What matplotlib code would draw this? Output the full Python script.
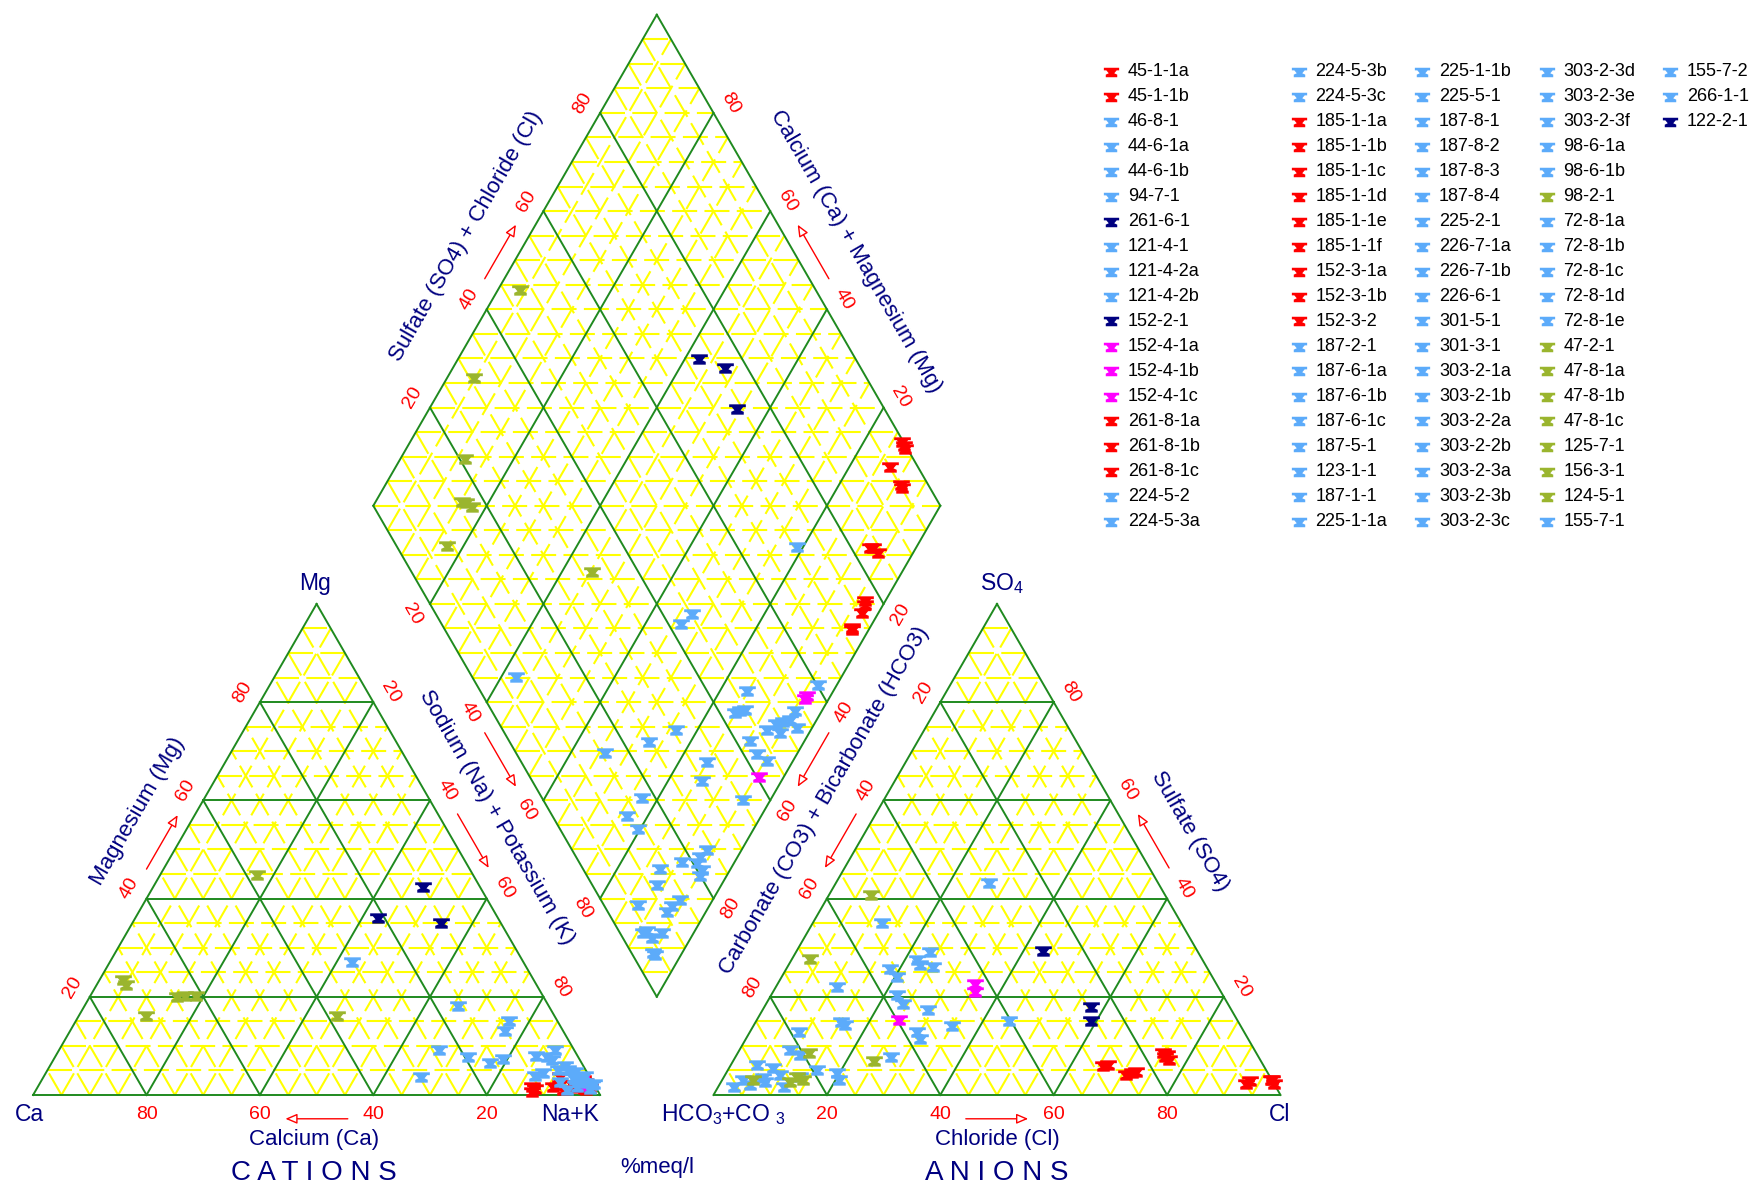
import numpy as np
import matplotlib.pyplot as plt
from matplotlib.path import Path

plt.rcParams['font.family'] = ['Liberation Sans', 'DejaVu Sans']
plt.rcParams['mathtext.default'] = 'regular'

H = np.sqrt(3) / 2

# cation triangle: (Na+K %, Mg %)
cation_red = [(87.1, 1.7), (87.6, 0.7), (90.9, 1.7), (91.1, 3.7), (97.5, 1.4), (94.0, 2.0), (95.0, 1.5),
              (96.0, 2.5), (93.0, 1.0), (97.0, 1.0), (95.5, 3.0), (92.0, 2.0), (96.5, 1.2), (88.0, 1.2)]
cation_blue = [(65.9, 18.1), (76.3, 15.1), (76.7, 13.0), (67.0, 9.2), (72.9, 7.7), (77.2, 6.6), (79.3, 7.3),
               (66.6, 3.6), (84.8, 7.9), (86.7, 7.7), (87.5, 9.2), (87.9, 7.1), (86.6, 3.9), (87.8, 4.4),
               (90.9, 5.8), (91.8, 5.1), (93.6, 3.4), (94.9, 3.1), (96.4, 2.4), (97.5, 2.0), (95.0, 1.7),
               (97.8, 2.2), (93.6, 1.0), (42.7, 27.1), (90.0, 5.1), (93.2, 4.7), (95.3, 3.9), (91.6, 2.6),
               (97.6, 1.2)]
cation_magenta = [(96.0, 2.2), (95.2, 3.0), (96.8, 1.8)]
cation_navy = [(47.6, 42.4), (42.9, 36.0), (54.4, 35.1)]
cation_olive = [(17.1, 44.7), (4.2, 23.4), (5.2, 22.3), (15.4, 20.0), (18.7, 20.2), (11.8, 16.1),
                (45.5, 16.1), (16.7, 20.2)]

# anion triangle: (Cl %, SO4 %)
anion_red = [(65.8, 5.8), (70.7, 4.0), (72.2, 4.7), (75.8, 7.7), (76.0, 8.1), (92.8, 2.2), (96.7, 3.1),
             (97.8, 2.2), (75.0, 8.5), (71.5, 4.5), (97.0, 3.0), (66.5, 6.2), (76.8, 7.2), (93.3, 2.8)]
anion_blue = [(12.2, 35.0), (18.3, 25.6), (20.3, 24.1), (22.1, 27.5), (23.6, 29.2), (25.7, 26.1), (23.2, 26.5),
              (10.8, 21.9), (22.1, 20.4), (24.1, 18.5), (29.2, 17.3), (16.0, 14.3), (15.1, 14.9), (29.4, 12.9),
              (30.7, 11.5), (35.1, 14.1), (44.6, 15.1), (8.7, 12.9), (8.9, 9.2), (11.2, 8.1), (27.4, 7.8),
              (4.6, 6.1), (7.8, 5.4), (9.7, 4.1), (13.4, 3.7), (15.7, 5.1), (3.7, 3.1), (2.7, 1.7), (5.4, 2.0),
              (11.5, 1.7), (19.5, 4.4), (20.5, 3.1), (27.0, 43.1), (6.9, 3.5), (7.8, 2.6)]
anion_magenta = [(34.8, 22.6), (35.6, 21.0), (25.0, 15.3)]
anion_navy = [(43.4, 29.4), (57.6, 18.0), (59.1, 15.0)]
anion_olive = [(7.4, 40.7), (3.2, 27.6), (12.6, 8.5), (24.8, 7.0), (5.5, 3.1), (12.9, 3.7), (14.3, 3.1),
               (12.2, 2.6)]

# diamond: (Na+K %, SO4+Cl %)
diamond_red = [(86.8, 99.8), (88.0, 99.5), (87.2, 95.1), (91.4, 95.0), (92.0, 83.3), (93.9, 84.2), (96.5, 77.0),
               (97.1, 75.2), (97.0, 71.7), (87.5, 99.6), (92.5, 83.8), (96.8, 76.5), (91.0, 95.3), (97.0, 72.0)]
diamond_blue = [(79.0, 70.6), (67.2, 45.1), (66.4, 42.3), (96.7, 60.2), (84.7, 47.0), (85.6, 43.7), (85.0, 42.7),
                (86.4, 44.8), (95.2, 53.5), (94.3, 50.3), (93.3, 48.9), (95.3, 51.7), (92.3, 46.6), (94.9, 48.6),
                (97.3, 52.0), (76.3, 30.6), (90.4, 42.5), (72.8, 24.6), (66.1, 15.7), (92.9, 42.3), (95.4, 43.4),
                (84.9, 32.7), (85.9, 29.9), (77.2, 17.6), (95.2, 35.3), (76.3, 13.1), (79.7, 13.8), (93.9, 23.8),
                (93.4, 21.9), (93.5, 20.7), (95.0, 20.8), (95.4, 19.9), (90.7, 18.2), (87.6, 13.6), (88.7, 11.5),
                (87.4, 6.1), (94.3, 14.0), (93.5, 11.9), (93.1, 10.4), (91.6, 4.9), (94.4, 7.3), (93.2, 5.1),
                (91.1, 4.1), (94.9, 3.8), (95.4, 3.9), (42.6, 7.8)]
diamond_magenta = [(95.8, 57.1), (95.8, 56.5), (95.7, 40.4)]
diamond_navy = [(42.5, 72.4), (48.0, 76.1), (54.3, 74.1)]
diamond_olive = [(3.8, 47.8), (4.7, 30.7), (11.4, 20.9), (15.3, 16.1), (17.5, 17.2), (17.0, 8.9),
                 (45.2, 31.8), (16.0, 16.6)]

# legend: sample ids per column and their group letters
legend_cols = [
    ["45-1-1a", "45-1-1b", "46-8-1", "44-6-1a", "44-6-1b", "94-7-1", "261-6-1", "121-4-1", "121-4-2a",
     "121-4-2b", "152-2-1", "152-4-1a", "152-4-1b", "152-4-1c", "261-8-1a", "261-8-1b", "261-8-1c",
     "224-5-2", "224-5-3a"],
    ["224-5-3b", "224-5-3c", "185-1-1a", "185-1-1b", "185-1-1c", "185-1-1d", "185-1-1e", "185-1-1f",
     "152-3-1a", "152-3-1b", "152-3-2", "187-2-1", "187-6-1a", "187-6-1b", "187-6-1c", "187-5-1",
     "123-1-1", "187-1-1", "225-1-1a"],
    ["225-1-1b", "225-5-1", "187-8-1", "187-8-2", "187-8-3", "187-8-4", "225-2-1", "226-7-1a", "226-7-1b",
     "226-6-1", "301-5-1", "301-3-1", "303-2-1a", "303-2-1b", "303-2-2a", "303-2-2b", "303-2-3a",
     "303-2-3b", "303-2-3c"],
    ["303-2-3d", "303-2-3e", "303-2-3f", "98-6-1a", "98-6-1b", "98-2-1", "72-8-1a", "72-8-1b", "72-8-1c",
     "72-8-1d", "72-8-1e", "47-2-1", "47-8-1a", "47-8-1b", "47-8-1c", "125-7-1", "156-3-1", "124-5-1",
     "155-7-1"],
    ["155-7-2", "266-1-1", "122-2-1"],
]
legend_groups = ["rrbbbbnbbbnmmmrrrbb", "bbrrrrrrrrrbbbbbbbb", "bbbbbbbbbbbbbbbbbbb", "bbbbbobbbbbooooooob", "bbn"]

COLORS = {'r': '#FF0000', 'b': '#5CABFA', 'm': '#FF00FF', 'n': '#000080', 'o': '#9AB52E'}
GREEN = '#1F8A1F'
YELLOW = '#FFFF00'
NAVY = '#000080'

# anvil-like sample symbol
ANVIL = Path([(-1, 0.62), (1, 0.62), (1, 0.28), (0.68, 0.28), (0.36, -0.1), (0.75, -0.28), (0.75, -0.62),
              (-0.75, -0.62), (-0.75, -0.28), (-0.36, -0.1), (-0.68, 0.28), (-1, 0.28), (-1, 0.62)], closed=True)


def cation_xy(pts):
    a = np.array(pts, dtype=float)
    return a[:, 0] + a[:, 1] / 2, a[:, 1] * H


def anion_xy(pts):
    a = np.array(pts, dtype=float)
    return 120 + a[:, 0] + a[:, 1] / 2, a[:, 1] * H


def diamond_xy(na, scl):
    na = np.asarray(na, dtype=float)
    scl = np.asarray(scl, dtype=float)
    return 110 + 0.5 * scl - 0.5 * (100 - na), 20 * H + H * (scl + 100 - na)


def line(ax, p, q, green):
    if green:
        ax.plot([p[0], q[0]], [p[1], q[1]], color=GREEN, lw=1.4, zorder=2)
    else:
        ax.plot([p[0], q[0]], [p[1], q[1]], color=YELLOW, lw=1.5, ls=(0, (12, 3.5)), zorder=1)


def tri_grid(ax, x0):
    A = np.array([x0, 0.0])
    B = np.array([x0 + 100, 0.0])
    C = np.array([x0 + 50, 100 * H])
    for k in range(5, 100, 5):
        t = k / 100
        g = k % 20 == 0
        line(ax, A + t * (C - A), B + t * (C - B), g)
        line(ax, A + t * (B - A), B + (1 - t) * (C - B), g)
        line(ax, A + t * (B - A), A + t * (C - A), g)
    for p, q in [(A, B), (B, C), (C, A)]:
        line(ax, p, q, True)


def diamond_grid(ax):
    for m in range(5, 200, 5):
        half = 0.5 * min(m, 200 - m)
        y = 20 * H + H * m
        line(ax, (110 - half, y), (110 + half, y), False)
    for k in range(0, 101, 5):
        g = k % 20 == 0
        line(ax, diamond_xy(k, 0), diamond_xy(k, 100), g)
        line(ax, diamond_xy(0, k), diamond_xy(100, k), g)


def outward(p0, p1, center):
    e = np.array(p1, float) - np.array(p0, float)
    n = np.array([e[1], -e[0]]) / np.hypot(*e)
    mid = (np.array(p0) + np.array(p1)) / 2
    if np.dot(mid - np.array(center), n) < 0:
        n = -n
    return n


def axis_labels(ax, p0, p1, center, rot, title=None, title_at=50, title_d=9.0, arrow_d=3.0):
    p0 = np.array(p0, float)
    p1 = np.array(p1, float)
    n = outward(p0, p1, center)
    for v in (20, 40, 60, 80):
        x, y = p0 + v / 100 * (p1 - p0) + 3.5 * n
        ax.text(x, y, str(v), color='red', fontsize=14, rotation=rot, ha='center', va='center')
    a = p0 + 0.445 * (p1 - p0) + arrow_d * n
    b = p0 + 0.555 * (p1 - p0) + arrow_d * n
    ax.annotate('', xy=b, xytext=a,
                arrowprops=dict(arrowstyle='-|>,head_length=0.7,head_width=0.3', ec='red', fc='white',
                                lw=1.0, shrinkA=0, shrinkB=0, mutation_scale=10))
    if title:
        x, y = p0 + title_at / 100 * (p1 - p0) + title_d * n
        ax.text(x, y, title, color=NAVY, fontsize=16, rotation=rot, ha='center', va='center')


fig = plt.figure(figsize=(17.6, 11.87), dpi=100)
ax = fig.add_axes([0, 0, 1, 1])
ax.set_xlim(-5.84, 304.57)
ax.set_ylim(-16.23, 193.12)
ax.axis('off')

tri_grid(ax, 0)
tri_grid(ax, 120)
diamond_grid(ax)

ca, nak, mg = (0, 0), (100, 0), (50, 100 * H)
hco3, cl, so4 = (120, 0), (220, 0), (170, 100 * H)
d_bot, d_left, d_right, d_top = [np.array(diamond_xy(n, s)) for n, s in [(100, 0), (0, 0), (100, 100), (0, 100)]]
cat_c = (50, 30)
an_c = (170, 30)
dia_c = (110, 104)

axis_labels(ax, nak, ca, cat_c, 0, arrow_d=4.2)
axis_labels(ax, ca, mg, cat_c, 60, 'Magnesium (Mg)', 52.5, 9.0, arrow_d=2.6)
axis_labels(ax, mg, nak, cat_c, -60, 'Sodium (Na) + Potassium (K)', 48.5, 8.6)
axis_labels(ax, hco3, cl, an_c, 0, arrow_d=4.2)
axis_labels(ax, cl, so4, an_c, -60, 'Sulfate (SO4)', 48.3, 9.5)
axis_labels(ax, so4, hco3, an_c, 60)
axis_labels(ax, d_left, d_top, dia_c, 60, 'Sulfate (SO4) + Chloride (Cl)', 49.3, 9.5)
axis_labels(ax, d_right, d_top, dia_c, -60, 'Calcium (Ca) + Magnesium (Mg)', 46.3, 9.5)
axis_labels(ax, d_left, d_bot, dia_c, -60)
axis_labels(ax, d_right, d_bot, dia_c, 60, 'Carbonate (CO3) + Bicarbonate (HCO3)', 55.3, 8.3)

# corner and bottom captions
ax.text(-0.7, -3.5, 'Ca', color=NAVY, fontsize=16.5, ha='center', va='center')
ax.text(94.7, -3.5, 'Na+K', color=NAVY, fontsize=16.5, ha='center', va='center')
ax.text(49.8, 90.2, 'Mg', color=NAVY, fontsize=16.5, ha='center', va='center')
ax.text(121.8, -3.5, r'HCO$_3$+CO $_3$', color=NAVY, fontsize=16.5, ha='center', va='center')
ax.text(219.8, -3.5, 'Cl', color=NAVY, fontsize=16.5, ha='center', va='center')
ax.text(170.9, 90.2, r'SO$_4$', color=NAVY, fontsize=16.5, ha='center', va='center')
ax.text(49.6, -7.8, 'Calcium (Ca)', color=NAVY, fontsize=16, ha='center', va='center')
ax.text(170.0, -7.8, 'Chloride (Cl)', color=NAVY, fontsize=16, ha='center', va='center')
ax.text(49.6, -13.8, 'C A T I O N S', color=NAVY, fontsize=20, ha='center', va='center')
ax.text(170.0, -13.8, 'A N I O N S', color=NAVY, fontsize=20, ha='center', va='center')
ax.text(110.0, -12.8, '%meq/l', color=NAVY, fontsize=16, ha='center', va='center')

mk = dict(marker=ANVIL, ms=12, mew=0, ls='none', zorder=5)
for c, cat, an, dia in [('r', cation_red, anion_red, diamond_red),
                        ('m', cation_magenta, anion_magenta, diamond_magenta),
                        ('b', cation_blue, anion_blue, diamond_blue),
                        ('n', cation_navy, anion_navy, diamond_navy),
                        ('o', cation_olive, anion_olive, diamond_olive)]:
    ax.plot(*cation_xy(cat), color=COLORS[c], **mk)
    ax.plot(*anion_xy(an), color=COLORS[c], **mk)
    d = np.array(dia)
    ax.plot(*diamond_xy(d[:, 0], d[:, 1]), color=COLORS[c], **mk)

# legend block, laid out in pixel columns
col_x = [1111, 1298.6, 1422, 1546.6, 1670]
W, Hpx = 1760, 1187
lg = dict(mk, ms=11)
for ci, (names, groups) in enumerate(zip(legend_cols, legend_groups)):
    for ri, (name, g) in enumerate(zip(names, groups)):
        y = 1 - (71.5 + 25.0 * ri) / Hpx
        ax.plot([col_x[ci] / W], [y], transform=fig.transFigure, color=COLORS[g], clip_on=False, **lg)
        fig.text((col_x[ci] + 17) / W, y, name, fontsize=13, color='black', va='center', ha='left')

fig.savefig('out.png', dpi=100, facecolor='white')
